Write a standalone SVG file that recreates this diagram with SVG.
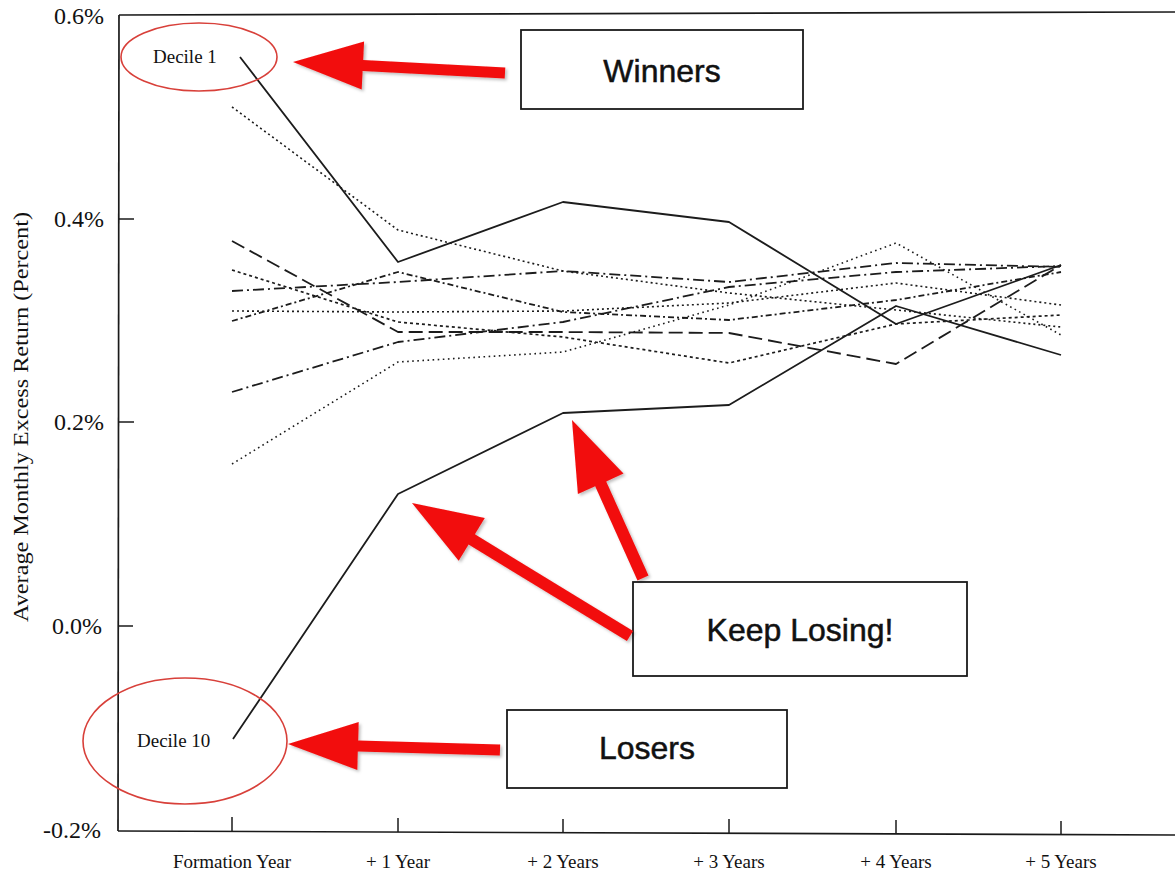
<svg xmlns="http://www.w3.org/2000/svg" width="1175" height="875" viewBox="0 0 1175 875">
<defs>
<style>
.ax{stroke:#1a1a1a;stroke-width:1.7;fill:none}
.tk{stroke:#1a1a1a;stroke-width:1.5;fill:none}
.yl{font-family:"Liberation Serif","Times New Roman",serif;font-size:24px;fill:#111;text-anchor:end}
.xl{font-family:"Liberation Serif","Times New Roman",serif;font-size:19px;fill:#111;text-anchor:middle}
.dl{font-family:"Liberation Serif","Times New Roman",serif;font-size:19px;fill:#111}
.ln{fill:none;stroke:#1c1c1c;stroke-width:1.8;stroke-linejoin:round}
.ld{stroke-dasharray:14 6}
.d1{stroke-dasharray:2 3;stroke-width:1.6}
.d2{stroke-dasharray:3 3;stroke-width:1.7}
.dd{stroke-dasharray:11 4 2 4}
.dd2{stroke-dasharray:6 3 2 3}
.sp{stroke-dasharray:1.6 3.5;stroke-width:1.6}
.ell{fill:none;stroke:#d8403a;stroke-width:1.6}
.box{fill:#fff;stroke:#1a1a1a;stroke-width:1.8}
.bt{font-family:"Liberation Sans",Arial,sans-serif;font-size:32px;fill:#111;text-anchor:middle;stroke:#111;stroke-width:0.5}
.arr{fill:#f20d0d;filter:url(#sh)}
</style>
<filter id="sh" x="-10%" y="-10%" width="130%" height="130%">
<feDropShadow dx="2" dy="2" stdDeviation="1.5" flood-color="#000" flood-opacity="0.25"/>
</filter>
</defs>
<rect width="1175" height="875" fill="#fff"/>

<g id="axes">
<line class="ax" x1="119" y1="15" x2="1175" y2="12"/>
<line class="ax" x1="119" y1="15" x2="118" y2="831"/>
<line class="ax" x1="118" y1="831" x2="1175" y2="835"/>
<line class="tk" x1="119" y1="219" x2="134" y2="219"/>
<line class="tk" x1="119" y1="422" x2="134" y2="422"/>
<line class="tk" x1="118" y1="626" x2="133" y2="626"/>
<line class="tk" x1="232" y1="831" x2="232" y2="817"/>
<line class="tk" x1="398" y1="832" x2="398" y2="818"/>
<line class="tk" x1="563" y1="833" x2="563" y2="819"/>
<line class="tk" x1="729" y1="833" x2="729" y2="819"/>
<line class="tk" x1="896" y1="834" x2="896" y2="820"/>
<line class="tk" x1="1061" y1="835" x2="1061" y2="821"/>
<text class="yl" x="104" y="24">0.6%</text>
<text class="yl" x="104" y="227">0.4%</text>
<text class="yl" x="104" y="430">0.2%</text>
<text class="yl" x="102" y="634">0.0%</text>
<text class="yl" x="101" y="838">-0.2%</text>
<text class="xl" x="232" y="868">Formation Year</text>
<text class="xl" x="398" y="868">+ 1 Year</text>
<text class="xl" x="563" y="868">+ 2 Years</text>
<text class="xl" x="729" y="868">+ 3 Years</text>
<text class="xl" x="896" y="868">+ 4 Years</text>
<text class="xl" x="1061" y="868">+ 5 Years</text>
<text transform="translate(28,417) rotate(-90)" font-family="Liberation Serif,Times New Roman,serif" font-size="21" fill="#111" text-anchor="middle" textLength="410" lengthAdjust="spacingAndGlyphs">Average Monthly Excess Return (Percent)</text>
</g>

<g id="series">
<polyline id="decile1" class="ln" points="240,57 398,262 563,202 729,222 896,324 1061,265"/>
<polyline id="decile2" class="ln d1" points="232,107 398,230 563,271 729,293 896,310 1061,327"/>
<polyline id="decile3" class="ln ld" points="232,241 398,332 563,332 729,333 896,364 1061,265"/>
<polyline id="decile4" class="ln d2" points="232,270 398,322 563,337 729,363 896,324 1061,315"/>
<polyline id="decile5" class="ln dd" points="232,291 398,282 563,271 729,282 896,263 1061,267"/>
<polyline id="decile6" class="ln d1" points="232,311 398,312 563,311 729,303 896,283 1061,305"/>
<polyline id="decile7" class="ln dd2" points="232,321 398,272 563,312 729,320 896,300 1061,272"/>
<polyline id="decile8" class="ln dd" points="232,392 398,342 563,322 729,287 896,272 1061,266"/>
<polyline id="decile9" class="ln sp" points="232,464 398,362 563,352 729,305 896,243 1061,335"/>
<polyline id="decile10" class="ln" points="233,739 398,494 563,413 729,405 896,306 1061,355"/>
</g>

<g id="decile1-label">
<ellipse class="ell" cx="199" cy="57" rx="78" ry="34"/>
<text class="dl" x="153" y="63">Decile 1</text>
</g>
<g id="decile10-label">
<ellipse class="ell" cx="185" cy="741" rx="102" ry="63"/>
<text class="dl" x="137" y="747">Decile 10</text>
</g>

<g id="winners">
<rect class="box" x="521" y="30" width="282" height="79"/>
<text class="bt" x="662" y="82">Winners</text>
</g>
<g id="keep-losing">
<rect class="box" x="633" y="582" width="334" height="94"/>
<text class="bt" x="800" y="641">Keep Losing!</text>
</g>
<g id="losers">
<rect class="box" x="507" y="710" width="280" height="78"/>
<text class="bt" x="647" y="759">Losers</text>
</g>

<g id="connectors">
<polygon class="arr" points="293,62 364.1,41.6 363.2,60.1 505.3,67.5 504.7,78.5 362.6,71.1 361.7,89.6"/>
<polygon class="arr" points="288,744 358.7,722 358.2,740.5 500.2,744.5 499.8,755.5 357.8,751.5 357.3,770"/>
<polygon class="arr" points="412,503 484.8,518.1 474.9,534.3 633.1,630.9 626.9,641.1 468.6,544.6 458.7,560.8"/>
<polygon class="arr" points="572,420 623.5,473.6 606.2,481.4 648.5,575.5 637.5,580.5 595.2,486.3 577.9,494.1"/>
</g>
</svg>
